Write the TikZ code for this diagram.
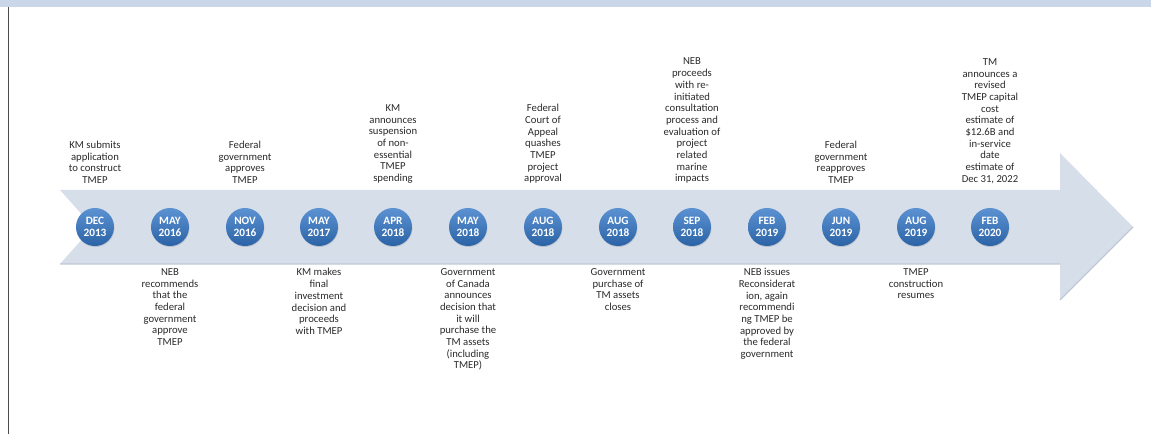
\documentclass[tikz,border=0pt]{standalone}
\usepackage{fontspec}
\setmainfont{Carlito}
\usetikzlibrary{positioning,shadows}
\definecolor{band}{HTML}{C9D7E9}
\definecolor{arrowfill}{HTML}{D6DEEA}
\definecolor{arrowedge}{HTML}{BFC8D5}
\definecolor{dottop}{HTML}{5C92D2}
\definecolor{dotbot}{HTML}{2A63A6}
\definecolor{ink}{HTML}{2A2A2A}

\tikzset{
  datedot/.style={circle,minimum size=0.95cm,inner sep=0pt,top color=dottop,bottom color=dotbot,
    drop shadow={opacity=0.3,shadow xshift=0.3pt,shadow yshift=-0.7pt},
    text=white,font=\fontsize{8}{9}\selectfont\bfseries,align=center},
  event/.style={inner sep=0pt,text=ink,font=\fontsize{7.6}{8.3}\selectfont,align=center}
}

\begin{document}
\begin{tikzpicture}[x=0.025cm,y=0.025cm]
\useasboundingbox (0,0) rectangle (1151,434);
\fill[band] (0,427) rectangle (1151,434);
\draw[gray!60!black,line width=0.7pt] (8,427) -- (8,0);

% the arrow
\fill[arrowfill] (60,244) -- (1060,244) -- (1060,281) -- (1133,207) -- (1060,134) -- (1060,170) -- (60,170) -- (93,207) -- cycle;
\draw[arrowedge,line width=0.8pt] (60,170) -- (1060,170) (1060,134) -- (1133,207);

% dates
\node[datedot] (d1) at (95,207) {DEC\\2013};
\node[datedot] (d2) at (170,207) {MAY\\2016};
\node[datedot] (d3) at (245,207) {NOV\\2016};
\node[datedot] (d4) at (319,207) {MAY\\2017};
\node[datedot] (d5) at (393,207) {APR\\2018};
\node[datedot] (d6) at (468,207) {MAY\\2018};
\node[datedot] (d7) at (543,207) {AUG\\2018};
\node[datedot] (d8) at (618,207) {AUG\\2018};
\node[datedot] (d9) at (692,207) {SEP\\2018};
\node[datedot] (d10) at (767,207) {FEB\\2019};
\node[datedot] (d11) at (841,207) {JUN\\2019};
\node[datedot] (d12) at (916,207) {AUG\\2019};
\node[datedot] (d13) at (990,207) {FEB\\2020};

% events above
\node[event,above=0.6cm of d1] (t1) {KM submits\\application\\to construct\\TMEP};
\node[event,above=0.6cm of d3] (t3) {Federal\\government\\approves\\TMEP};
\node[event,above=0.6cm of d5] (t5) {KM\\announces\\suspension\\of non-\\essential\\TMEP\\spending};
\node[event,above=0.6cm of d7] (t7) {Federal\\Court of\\Appeal\\quashes\\TMEP\\project\\approval};
\node[event,above=0.6cm of d9] (t9) {NEB\\proceeds\\with re-\\initiated\\consultation\\process and\\evaluation of\\project\\related\\marine\\impacts};
\node[event,above=0.6cm of d11] (t11) {Federal\\government\\reapproves\\TMEP};
\node[event,above=0.6cm of d13] (t13) {TM\\announces a\\revised\\TMEP capital\\cost\\estimate of\\\$12.6B and\\in-service\\date\\estimate of\\Dec 31, 2022};

% events below
\node[event,below=0.55cm of d2] (t2) {NEB\\recommends\\that the\\federal\\government\\approve\\TMEP};
\node[event,below=0.55cm of d4] (t4) {KM makes\\final\\investment\\decision and\\proceeds\\with TMEP};
\node[event,below=0.55cm of d6] (t6) {Government\\of Canada\\announces\\decision that\\it will\\purchase the\\TM assets\\(including\\TMEP)};
\node[event,below=0.55cm of d8] (t8) {Government\\purchase of\\TM assets\\closes};
\node[event,below=0.55cm of d10] (t10) {NEB issues\\Reconsiderat\\ion, again\\recommendi\\ng TMEP be\\approved by\\the federal\\government};
\node[event,below=0.55cm of d12] (t12) {TMEP\\construction\\resumes};
\end{tikzpicture}
\end{document}
